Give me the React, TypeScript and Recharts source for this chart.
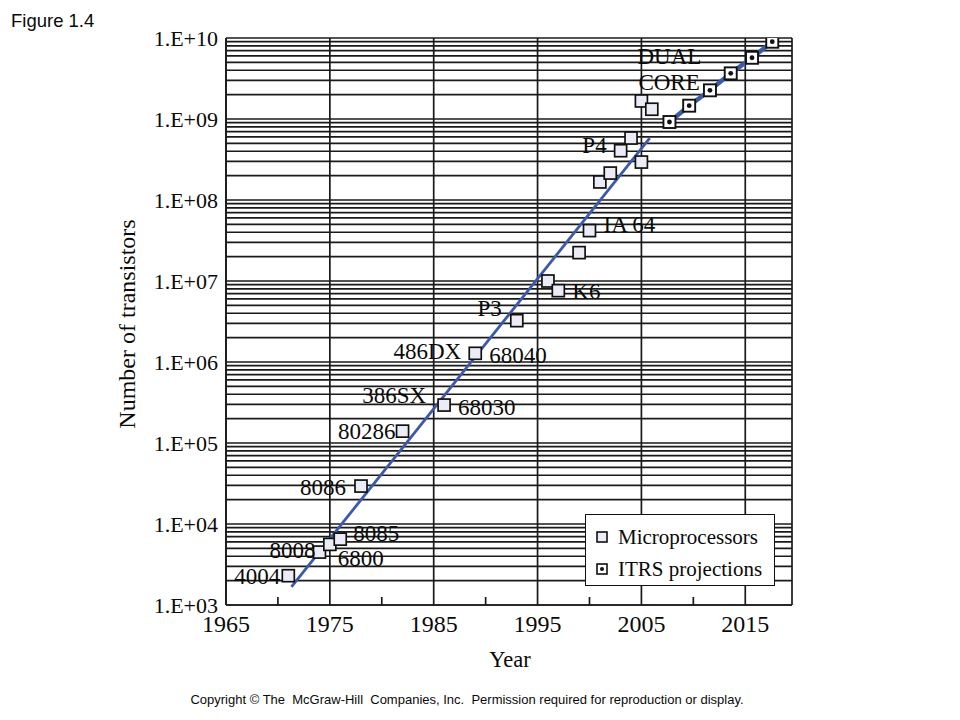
import React from 'react'
import {
  ComposedChart,
  Scatter,
  Line,
  XAxis,
  YAxis,
  CartesianGrid,
  ReferenceLine,
  Legend,
  LabelList,
} from 'recharts'

// Microprocessors (open squares)
const microYears = [1971, 1974, 1975, 1976, 1978, 1982, 1986, 1989, 1993, 1996, 1997, 1999, 2000, 2001, 2002, 2003, 2004, 2005, 2005, 2006]
const microCounts = [2300, 4500, 5600, 6500, 29400, 140000, 294000, 1280000, 3240000, 1.0e7, 7.6e6, 2.24e7, 4.19e7, 1.67e8, 2.15e8, 4.06e8, 5.82e8, 2.94e8, 1.67e9, 1.32e9]
const microNames = ['4004', '8008', '6800', '8085', '8086', '80286', '386SX|68030', '486DX|68040', 'P3', '', 'K6', '', 'IA 64', '', '', 'P4', '', '', 'DUAL|CORE', '']

// ITRS projections (squares with dot)
const itrsYears = [2007.7, 2009.6, 2011.6, 2013.6, 2015.65, 2017.6]
const itrsCounts = [9.18e8, 1.46e9, 2.26e9, 3.66e9, 5.7e9, 9.0e9]

// Trend line
const trendYears = [1971.3, 2005.8]
const trendCounts = [1670, 5.8e8]

const yearTicks = [1965, 1970, 1975, 1980, 1985, 1990, 1995, 2000, 2005, 2010, 2015]
const majorYears = [1965, 1975, 1985, 1995, 2005, 2015]
const decades = [3, 4, 5, 6, 7, 8, 9]

const countTicks: number[] = []
decades.forEach((e) => {
  for (let m = 1; m <= 9; m++) countTicks.push(m * Math.pow(10, e))
})
countTicks.push(1e10)

const microData = microYears.map((year, i) => ({ year, count: microCounts[i], name: microNames[i] }))
const itrsData = itrsYears.map((year, i) => ({ year, count: itrsCounts[i] }))
const trendData = trendYears.map((year, i) => ({ year, count: trendCounts[i] }))

const SERIF = '"Liberation Serif", "Times New Roman", serif'
const SANS = '"Liberation Sans", Arial, sans-serif'
const BLUE = '#3d5aa9'
const GRID = '#1a1a1a'
const INK = '#0a0a0a'

// where each point label sits relative to its square
const labelLayout: Record<string, { dx: number; dy: number; anchor: 'start' | 'end' }> = {
  '4004': { dx: -8, dy: 0, anchor: 'end' },
  '8008': { dx: -4, dy: -2, anchor: 'end' },
  '6800': { dx: 8, dy: 14, anchor: 'start' },
  '8085': { dx: 13, dy: -6, anchor: 'start' },
  '8086': { dx: -15, dy: 1, anchor: 'end' },
  '80286': { dx: -7, dy: 0, anchor: 'end' },
  '386SX': { dx: -18, dy: -10, anchor: 'end' },
  '68030': { dx: 14, dy: 2, anchor: 'start' },
  '486DX': { dx: -14, dy: -2, anchor: 'end' },
  '68040': { dx: 14, dy: 2, anchor: 'start' },
  P3: { dx: -15, dy: -13, anchor: 'end' },
  K6: { dx: 14, dy: 0, anchor: 'start' },
  'IA 64': { dx: 14, dy: -7, anchor: 'start' },
  P4: { dx: -14, dy: -6, anchor: 'end' },
  DUAL: { dx: -4, dy: -45, anchor: 'start' },
  CORE: { dx: -3, dy: -19, anchor: 'start' },
}

const OpenSquare = (props: any) => {
  const { cx, cy } = props
  if (cx == null || cy == null) return null
  return <rect x={cx - 6} y={cy - 6} width={12} height={12} fill="#ececf6" stroke="#111" strokeWidth={1.7} />
}

const DotSquare = (props: any) => {
  const { cx, cy } = props
  if (cx == null || cy == null) return null
  return (
    <g>
      <rect x={cx - 6} y={cy - 6} width={12} height={12} fill="#fff" stroke="#111" strokeWidth={1.9} />
      <circle cx={cx} cy={cy} r={2.4} fill="#111" />
    </g>
  )
}

const PointLabel = (props: any) => {
  const { x, y, width, height, value } = props
  if (!value) return null
  const cx = x + (width || 0) / 2
  const cy = y + (height || 0) / 2
  return (
    <g>
      {String(value)
        .split('|')
        .map((name) => {
          const l = labelLayout[name]
          if (!l) return null
          return (
            <text
              key={name}
              x={cx + l.dx}
              y={cy + l.dy}
              dy={8}
              textAnchor={l.anchor}
              fontFamily={SERIF}
              fontSize={23}
              fill={INK}
            >
              {name}
            </text>
          )
        })}
    </g>
  )
}

const YTick = (props: any) => {
  const { x, y, payload } = props
  const e = Math.log10(payload.value)
  if (Math.abs(e - Math.round(e)) > 1e-9) return null
  const exp = String(Math.round(e)).padStart(2, '0')
  return (
    <text x={x - 8} y={y} dy={7.5} textAnchor="end" fontFamily={SERIF} fontSize={22} fill={INK}>
      {`1.E+${exp}`}
    </text>
  )
}

const XTick = (props: any) => {
  const { x, y, payload } = props
  if (payload.value % 10 === 0) {
    return <line x1={x} x2={x} y1={y} y2={y - 8} stroke={GRID} strokeWidth={1.7} />
  }
  return (
    <text x={x} y={y} dy={27} textAnchor="middle" fontFamily={SERIF} fontSize={24} fill={INK}>
      {payload.value}
    </text>
  )
}

const LegendBox = () => (
  <div
    style={{
      width: 190,
      height: 72,
      boxSizing: 'border-box',
      border: '1.7px solid #111',
      background: '#fff',
      fontFamily: SERIF,
      fontSize: 21,
      color: INK,
      padding: '6px 0 0 10px',
      lineHeight: '32px',
    }}
  >
    <div style={{ display: 'flex', alignItems: 'center' }}>
      <svg width={12} height={12} style={{ marginRight: 10 }}>
        <rect x={1} y={1} width={10} height={10} fill="#ececf6" stroke="#111" strokeWidth={1.6} />
      </svg>
      Microprocessors
    </div>
    <div style={{ display: 'flex', alignItems: 'center' }}>
      <svg width={12} height={12} style={{ marginRight: 10 }}>
        <rect x={1} y={1} width={10} height={10} fill="#fff" stroke="#111" strokeWidth={1.6} />
        <circle cx={6} cy={6} r={2} fill="#111" />
      </svg>
      ITRS projections
    </div>
  </div>
)

export default function App() {
  return (
    <div style={{ position: 'absolute', left: 0, top: 0, width: 960, height: 720, background: '#fff' }}>
      <div style={{ position: 'absolute', left: 11, top: 10, fontFamily: SANS, fontSize: 18.5, color: INK }}>
        Figure 1.4
      </div>
      <ComposedChart width={960} height={720} margin={{ top: 38, right: 168, bottom: 85, left: 140 }}>
        <CartesianGrid vertical={false} stroke={GRID} strokeWidth={1.7} />
        <XAxis
          dataKey="year"
          type="number"
          domain={[1965, 2019.5]}
          ticks={yearTicks}
          interval={0}
          height={30}
          tickSize={0}
          tickMargin={0}
          tickLine={false}
          axisLine={{ stroke: GRID, strokeWidth: 1.7 }}
          tick={<XTick />}
          allowDataOverflow
        />
        <YAxis
          dataKey="count"
          type="number"
          scale="log"
          domain={[1e3, 1e10]}
          ticks={countTicks}
          interval={0}
          width={86}
          tickSize={0}
          tickMargin={0}
          tickLine={false}
          axisLine={{ stroke: GRID, strokeWidth: 1.7 }}
          tick={<YTick />}
          allowDataOverflow
        />
        {majorYears.map((yr) => (
          <ReferenceLine key={yr} x={yr} stroke={GRID} strokeWidth={1.7} />
        ))}
        <ReferenceLine x={2019.5} stroke={GRID} strokeWidth={1.7} />
        <Line
          data={trendData}
          dataKey="count"
          type="linear"
          stroke={BLUE}
          strokeWidth={2.8}
          dot={false}
          legendType="none"
          isAnimationActive={false}
        />
        <Line
          data={itrsData}
          dataKey="count"
          type="linear"
          stroke={BLUE}
          strokeWidth={4.5}
          dot={false}
          legendType="none"
          isAnimationActive={false}
        />
        <Scatter name="Microprocessors" data={microData} dataKey="count" shape={<OpenSquare />} isAnimationActive={false}>
          <LabelList dataKey="name" content={<PointLabel />} />
        </Scatter>
        <Scatter name="ITRS projections" data={itrsData} dataKey="count" shape={<DotSquare />} isAnimationActive={false} />
        <Legend
          layout="horizontal"
          verticalAlign="middle"
          align="center"
          content={<LegendBox />}
          wrapperStyle={{ left: 585, top: 514, width: 190, height: 72 }}
        />
        <text x={510} y={667} textAnchor="middle" fontFamily={SERIF} fontSize={22.5} fill={INK}>
          Year
        </text>
        <text
          x={127}
          y={324}
          transform="rotate(-90 127 324)"
          textAnchor="middle"
          dominantBaseline="central"
          fontFamily={SERIF}
          fontSize={24}
          fill={INK}
        >
          Number of transistors
        </text>
        <text x={467} y={704} textAnchor="middle" fontFamily={SANS} fontSize={13} fill={INK} xmlSpace="preserve">
          Copyright © The  McGraw-Hill  Companies, Inc.  Permission required for reproduction or display.
        </text>
      </ComposedChart>
    </div>
  )
}
